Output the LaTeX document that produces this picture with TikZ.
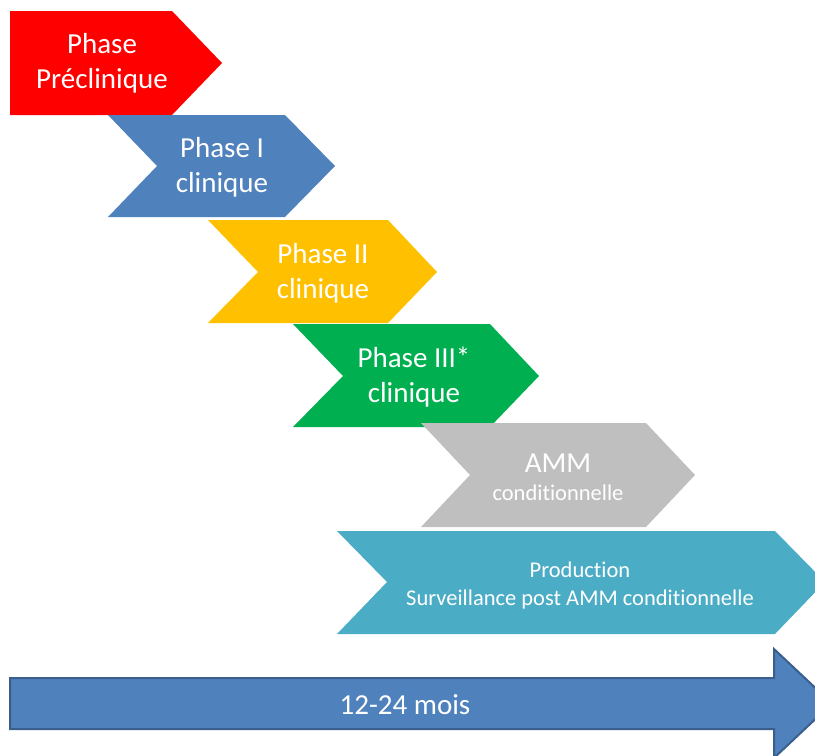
\documentclass[tikz,border=0pt]{standalone}
\usepackage{fontspec}
\setmainfont[Ligatures=NoCommon]{Carlito}
\usetikzlibrary{positioning}
\usetikzlibrary{calc}
\definecolor{preclin}{HTML}{FF0000}
\definecolor{phaseone}{HTML}{4F81BD}
\definecolor{phasetwo}{HTML}{FFC000}
\definecolor{phasethree}{HTML}{00B050}
\definecolor{amm}{HTML}{BFBFBF}
\definecolor{prod}{HTML}{4BACC6}
\definecolor{timeline}{HTML}{4F81BD}
\definecolor{timeedge}{HTML}{3A5F8C}

\begin{document}
\begin{tikzpicture}[x=1pt,y=-1pt,
	lbl/.style={text=white,align=center,inner sep=0pt,font=\fontsize{29}{35}\selectfont},
	small lbl/.style={text=white,align=center,inner sep=0pt,font=\fontsize{22.5}{28}\selectfont}]
	\useasboundingbox (0,0) rectangle (815,756);
	\clip (0,0) rectangle (815,756);
	
	% Preclinique
	\fill[preclin] (10,11) -- (172,11) -- (222,63) -- (172,115) -- (10,115) -- cycle;
	\node[lbl] (pre) at (102,63) {Phase\\Préclinique};
	
	% Phase I
	\fill[phaseone] (108,115) -- (285,115) -- (335,166) -- (285,217) -- (108,217) -- (157,166) -- cycle;
	\node[lbl] (ph1) at (222,167) {Phase I\\clinique};
	
	% Phase II
	\fill[phasetwo] (208,220) -- (388,220) -- (437,272) -- (388,323) -- (208,323) -- (258,272) -- cycle;
	\node[lbl] (ph2) at (323,273) {Phase II\\clinique};
	
	% Phase III
	\fill[phasethree] (293,324) -- (490,324) -- (539,376) -- (490,427) -- (293,427) -- (343,376) -- cycle;
	\node[lbl] (ph3) at (414,377) {Phase III*\\clinique};
	
	% AMM
	\fill[amm] (421,423) -- (646,423) -- (695,475) -- (646,527) -- (421,527) -- (470,475) -- cycle;
	\node[lbl,anchor=base] (amm) at (558,472) {AMM};
	\node[small lbl,anchor=base] (cond) at (558,500) {conditionnelle};
	
	% Production
	\fill[prod] (337,531) -- (775,531) -- (825,582) -- (775,634) -- (337,634) -- (387,582) -- cycle;
	\node[small lbl] (prod) at (580,585) {Production\\Surveillance post AMM conditionnelle};
	
	% duree
	\draw[timeedge,line width=2pt,fill=timeline] (10,678) -- (774,678) -- (774,649) -- (832,703.5) -- (774,758) -- (774,729) -- (10,729) -- cycle;
	\node[lbl] (duree) at (405,705) {12-24 mois};
\end{tikzpicture}
\end{document}
